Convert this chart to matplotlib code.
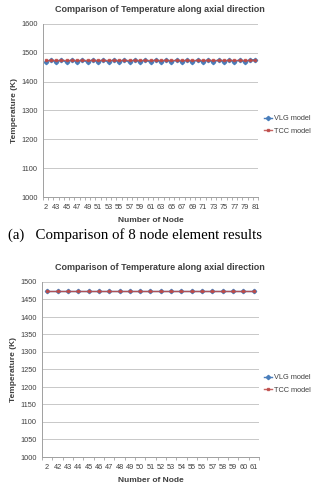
import numpy as np
from matplotlib import pyplot as plt

# chart (a): 8 node element
nodes_a = ['2'] + [str(n) for n in range(42, 82)]
vlg_a = [1467, 1476] * 20 + [1476]
tcc_a = [1474] * 41

# chart (b)
nodes_b = ['2'] + [str(n) for n in range(42, 62)]
vlg_b = [1474] * 21
tcc_b = [1474] * 21

W, H = 317, 494
fig = plt.figure(figsize=(W / 100, H / 100), dpi=100)
plt.rcParams['font.family'] = ['Liberation Sans', 'DejaVu Sans']

blue = '#4a7ebb'
red = '#be4b48'
grid_c = '#c8c8c8'
txt_c = '#404040'


def px(l, t, r, b):
    return [l / W, 1 - b / H, (r - l) / W, (b - t) / H]


def draw(ax, cats, vlg, tcc, ylim, step, label_every):
    x = np.arange(len(cats))
    ax.plot(x, vlg, color=blue, lw=1.0, marker='D', ms=2.2, label='VLG model')
    ax.plot(x, tcc, color=red, lw=1.0, marker='s', ms=1.8, alpha=0.85, label='TCC model')
    ax.set_xlim(-0.5, len(cats) - 0.5)
    ax.set_ylim(*ylim)
    ax.set_yticks(np.arange(ylim[0], ylim[1] + 1, step))
    ax.set_xticks(x[::label_every])
    ax.set_xticklabels(cats[::label_every])
    ax.set_xticks(np.arange(-0.5, len(cats)), minor=True)
    ax.tick_params(axis='x', which='major', length=0, pad=5, labelsize=5.3, colors=txt_c)
    ax.tick_params(axis='x', which='minor', length=2, color='#909090', width=0.5)
    ax.tick_params(axis='y', length=0, pad=4, labelsize=5.3, colors=txt_c)
    ax.grid(axis='y', color=grid_c, lw=0.7)
    ax.set_axisbelow(True)
    for s in ['top', 'right']:
        ax.spines[s].set_visible(False)
    for s in ['left', 'bottom']:
        ax.spines[s].set_color('#a0a0a0')
        ax.spines[s].set_linewidth(0.7)
    ax.set_xlabel('Number of Node', fontsize=6, fontweight='bold', color=txt_c, labelpad=4)
    ax.set_ylabel('Temperature (K)', fontsize=6, fontweight='bold', color=txt_c, labelpad=2)


def legend(ax, yc):
    fig.legend(*ax.get_legend_handles_labels(), loc='center left',
               bbox_to_anchor=(264 / W, 1 - yc / H), frameon=False, fontsize=5.3,
               handlelength=1.1, handletextpad=0.2, labelspacing=0.7, borderaxespad=0,
               borderpad=0, labelcolor=txt_c)


ax1 = fig.add_axes(px(43, 24, 258, 197))
draw(ax1, nodes_a, vlg_a, tcc_a, (1000, 1600), 100, 2)
fig.text(160 / W, 1 - 10 / H, 'Comparison of Temperature along axial direction',
         ha='center', va='center', fontsize=6.5, fontweight='bold', color=txt_c)
legend(ax1, 125)
fig.text(8 / W, 1 - 235 / H, '(a)   Comparison of 8 node element results',
         ha='left', va='center', fontsize=10.7, family=['Liberation Serif', 'DejaVu Serif'])

ax2 = fig.add_axes(px(42, 282, 259, 457))
draw(ax2, nodes_b, vlg_b, tcc_b, (1000, 1500), 50, 1)
fig.text(160 / W, 1 - 268 / H, 'Comparison of Temperature along axial direction',
         ha='center', va='center', fontsize=6.5, fontweight='bold', color=txt_c)
legend(ax2, 384)

plt.savefig('out.png', dpi=100)
